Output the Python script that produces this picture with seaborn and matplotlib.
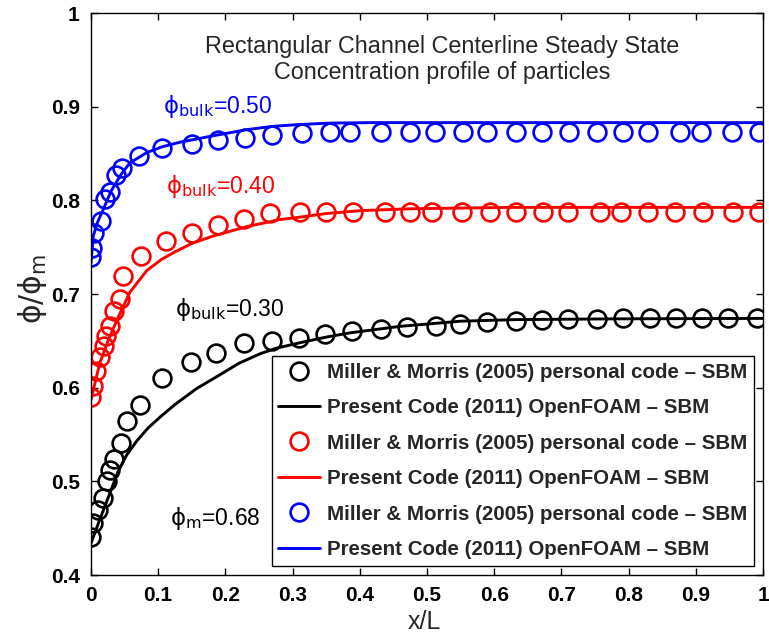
import matplotlib
matplotlib.use("Agg")
import matplotlib.pyplot as plt
import matplotlib.ticker as mticker
import seaborn as sns

# ---------------- data ----------------
# Miller & Morris (2005) personal code - SBM  (circles)
mm30_x = [0.000, 0.003, 0.011, 0.018, 0.024, 0.029, 0.034, 0.045, 0.053, 0.073,
          0.106, 0.149, 0.186, 0.227, 0.269, 0.310, 0.348, 0.389, 0.432, 0.470,
          0.513, 0.549, 0.589, 0.632, 0.671, 0.710, 0.753, 0.792, 0.832, 0.870,
          0.909, 0.948, 0.991]
mm30_y = [0.4406, 0.456, 0.4695, 0.482, 0.5005, 0.512, 0.524, 0.541, 0.5647, 0.582,
          0.610, 0.627, 0.637, 0.648, 0.6495, 0.653, 0.657, 0.660, 0.663, 0.6645,
          0.666, 0.668, 0.6706, 0.671, 0.672, 0.673, 0.673, 0.674, 0.674, 0.674,
          0.674, 0.674, 0.674]

mm40_x = [0.000, 0.003, 0.008, 0.014, 0.019, 0.023, 0.028, 0.034, 0.043, 0.048,
          0.075, 0.112, 0.150, 0.189, 0.227, 0.266, 0.311, 0.350, 0.390, 0.4375,
          0.475, 0.507, 0.552, 0.594, 0.632, 0.673, 0.710, 0.757, 0.789, 0.829,
          0.869, 0.910, 0.956, 0.994]
mm40_y = [0.590, 0.602, 0.618, 0.633, 0.645, 0.655, 0.666, 0.682, 0.695, 0.719,
          0.741, 0.757, 0.765, 0.774, 0.780, 0.787, 0.788, 0.788, 0.788, 0.7875,
          0.7875, 0.7875, 0.7875, 0.7875, 0.7875, 0.7875, 0.7875, 0.7875, 0.7875, 0.7875,
          0.7875, 0.7875, 0.7875, 0.7875]

mm50_x = [0.000, 0.002, 0.004, 0.015, 0.021, 0.028, 0.037, 0.046, 0.071, 0.106,
          0.150, 0.189, 0.229, 0.269, 0.3135, 0.356, 0.385, 0.4315, 0.475, 0.512,
          0.553, 0.589, 0.632, 0.671, 0.711, 0.7525, 0.791, 0.829, 0.876, 0.9077,
          0.954, 0.994]
mm50_y = [0.740, 0.749, 0.765, 0.778, 0.801, 0.809, 0.827, 0.835, 0.847, 0.856,
          0.860, 0.864, 0.867, 0.870, 0.8715, 0.873, 0.873, 0.873, 0.873, 0.873,
          0.873, 0.873, 0.873, 0.873, 0.873, 0.873, 0.873, 0.873, 0.873, 0.873,
          0.873, 0.873]

# Present Code (2011) OpenFOAM - SBM  (lines)
of30_x = [0.000, 0.013, 0.028, 0.040, 0.053, 0.068, 0.085, 0.105, 0.125, 0.157,
          0.190, 0.220, 0.251, 0.275, 0.311, 0.350, 0.385, 0.460, 0.550, 0.633,
          0.780, 1.000]
of30_y = [0.434, 0.459, 0.487, 0.510, 0.528, 0.543, 0.557, 0.570, 0.582, 0.599,
          0.613, 0.626, 0.636, 0.642, 0.648, 0.654, 0.6585, 0.6655, 0.671, 0.6727,
          0.6735, 0.674]

of40_x = [0.000, 0.013, 0.027, 0.041, 0.058, 0.083, 0.105, 0.125, 0.150, 0.182,
          0.232, 0.281, 0.310, 0.351, 0.400, 0.475, 0.620, 1.000]
of40_y = [0.587, 0.626, 0.653, 0.676, 0.702, 0.725, 0.737, 0.745, 0.754, 0.762,
          0.772, 0.7795, 0.782, 0.786, 0.789, 0.791, 0.7925, 0.7925]

of50_x = [0.000, 0.0034, 0.010, 0.018, 0.030, 0.045, 0.058, 0.083, 0.105, 0.132,
          0.182, 0.232, 0.270, 0.310, 0.356, 0.420, 0.500, 1.000]
of50_y = [0.733, 0.762, 0.777, 0.790, 0.810, 0.828, 0.840, 0.851, 0.857, 0.862,
          0.869, 0.8755, 0.879, 0.881, 0.8825, 0.883, 0.883, 0.883]

colors = ["#000000", "#ff0000", "#0000ff"]
label_mm = "Miller & Morris (2005) personal code \u2013 SBM"
label_of = "Present Code (2011) OpenFOAM \u2013 SBM"

x_ticks = [0, 0.1, 0.2, 0.3, 0.4, 0.5, 0.6, 0.7, 0.8, 0.9, 1]
y_ticks = [0.4, 0.5, 0.6, 0.7, 0.8, 0.9, 1]

# ---------------- style ----------------
sns.set_style("ticks")
plt.rcParams["font.family"] = ["Liberation Sans", "DejaVu Sans"]
plt.rcParams["mathtext.fontset"] = "dejavusans"

fig = plt.figure(figsize=(7.69, 6.33), dpi=100)
ax = fig.add_axes([0.1183, 0.0916, 0.8739, 0.8878])

series = [(mm30_x, mm30_y, of30_x, of30_y),
          (mm40_x, mm40_y, of40_x, of40_y),
          (mm50_x, mm50_y, of50_x, of50_y)]

for (mx, my, lx, ly), c in zip(series, colors):
    sns.lineplot(x=mx, y=my, ax=ax, sort=False, estimator=None,
                 linestyle="none", marker="o", markersize=12.8,
                 markerfacecolor="none", markeredgecolor=c,
                 markeredgewidth=1.9, color=c, label=label_mm)
    sns.lineplot(x=lx, y=ly, ax=ax, sort=False, estimator=None,
                 color=c, linewidth=2.1, label=label_of)

ax.set_xlim(0, 1)
ax.set_ylim(0.4, 1)
ax.set_xticks(x_ticks)
ax.set_yticks(y_ticks)
fmt = mticker.FuncFormatter(lambda v, p: f"{v:g}")
ax.xaxis.set_major_formatter(fmt)
ax.yaxis.set_major_formatter(fmt)
ax.tick_params(direction="in", length=5, width=1, top=True, right=True,
               labelsize=15, pad=8, colors="black")
for lab in ax.get_xticklabels() + ax.get_yticklabels():
    lab.set_fontweight("bold")
for sp in ax.spines.values():
    sp.set_visible(True)
    sp.set_color("black")
    sp.set_linewidth(1.0)

ax.set_xlabel("x/L", fontsize=18)
ax.set_ylabel(r"$\mathrm{\phi/\phi_m}$", fontsize=21.5)
ax.xaxis.set_label_coords(0.496, -0.062)
ax.yaxis.set_label_coords(-0.062, 0.51)

# title inside the axes
ax.text(0.523, 0.964, "Rectangular Channel Centerline Steady State",
        fontsize=16.8, ha="center", va="center", transform=ax.transData)
ax.text(0.523, 0.937, "Concentration profile of particles",
        fontsize=16.8, ha="center", va="center", transform=ax.transData)

# annotations
ann_size = 16.5
ax.text(0.107, 0.893, r"$\mathrm{\phi_{bulk}}$=0.50", color=colors[2],
        fontsize=ann_size, ha="left", va="baseline")
ax.text(0.112, 0.808, r"$\mathrm{\phi_{bulk}}$=0.40", color=colors[1],
        fontsize=ann_size, ha="left", va="baseline")
ax.text(0.125, 0.677, r"$\mathrm{\phi_{bulk}}$=0.30", color=colors[0],
        fontsize=ann_size, ha="left", va="baseline")
ax.text(0.118, 0.4535, r"$\mathrm{\phi_m}$=0.68", color=colors[0],
        fontsize=ann_size, ha="left", va="baseline")

leg = ax.legend(loc="lower right", prop={"weight": "bold", "size": 14.8},
                frameon=True, fancybox=False, framealpha=1, edgecolor="black",
                handlelength=2.0, handletextpad=0.35, labelspacing=0.8,
                borderpad=0.33, borderaxespad=0.45)
leg.get_frame().set_linewidth(1.0)

fig.savefig("out.png", dpi=100)
